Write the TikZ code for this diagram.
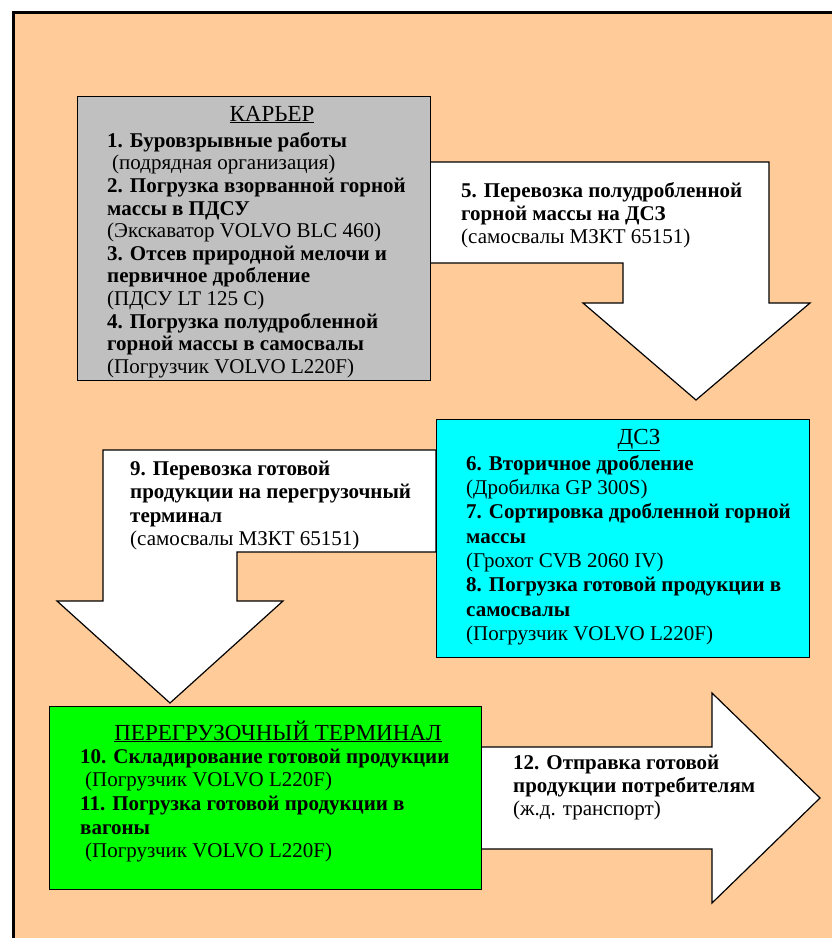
\documentclass[tikz,border=0pt]{standalone}
\usepackage{fontspec}
\setmainfont{Liberation Serif}
\usepackage{tikz}
\usetikzlibrary{positioning}

\definecolor{peach}{RGB}{255,204,153}
\definecolor{quarrygray}{RGB}{192,192,192}
\definecolor{plantcyan}{RGB}{0,255,255}
\definecolor{termgreen}{RGB}{0,255,0}

\begin{document}
\begin{tikzpicture}[x=1pt, y=-1pt,
    stage box/.style={draw, line width=1.2pt, anchor=north west, inner sep=0pt},
    block arrow/.style={draw, fill=white, line width=1.2pt, line join=miter},
    stage text/.style={anchor=north west, align=left, inner sep=0pt},
    stage title/.style={anchor=base, inner sep=0pt, font=\fontsize{23}{26}\selectfont}]

  \useasboundingbox (0,0) rectangle (832,938);
  \clip (0,0) rectangle (832,938);
  \fill[white] (0,0) rectangle (832,938);
  \draw[fill=peach, line width=3pt] (13,12) rectangle (860,970);

  % block arrows
  \draw[block arrow] (430,162) -- (769,162) -- (769,303) -- (810,303) -- (696,400)
    -- (583,303) -- (623,303) -- (623,263) -- (430,263) -- cycle;
  \draw[block arrow] (103,450) -- (436,450) -- (436,552) -- (237,552) -- (237,601)
    -- (283,601) -- (170,703) -- (57,601) -- (103,601) -- cycle;
  \draw[block arrow] (481,747) -- (712,747) -- (712,693) -- (820,798) -- (712,903)
    -- (712,849) -- (481,849) -- cycle;

  % stages
  \node[stage box, fill=quarrygray, minimum width=353pt, minimum height=284pt] (quarry) at (77,96) {};
  \node[stage box, fill=plantcyan, minimum width=373pt, minimum height=238pt] (plant) at (436,419) {};
  \node[stage box, fill=termgreen, minimum width=432pt, minimum height=183pt] (terminal) at (49,706) {};

  \node[stage title] (quarry title) at (272,121) {\underline{КАРЬЕР}};
  \node[stage text, font=\fontsize{21}{22.6}\selectfont] (quarry steps) at (107,131.2)
    {\strut\textbf{1. Буровзрывные работы}\\
     \hspace{5pt}(подрядная организация)\\
     \textbf{2. Погрузка взорванной горной}\\
     \textbf{массы в ПДСУ}\\
     (Экскаватор VOLVO BLC 460)\\
     \textbf{3. Отсев природной мелочи и}\\
     \textbf{первичное дробление}\\
     (ПДСУ LT 125 C)\\
     \textbf{4. Погрузка полудробленной}\\
     \textbf{горной массы в самосвалы}\\
     (Погрузчик VOLVO L220F)};

  \node[stage text, font=\fontsize{21}{23}\selectfont] (haul one) at (461,180.9)
    {\strut\textbf{5. Перевозка полудробленной}\\
     \textbf{горной массы на ДСЗ}\\
     (самосвалы МЗКТ 65151)};

  \node[stage title] (plant title) at (639,444) {\underline{ДСЗ}};
  \node[stage text, font=\fontsize{21}{24.3}\selectfont] (plant steps) at (466,453)
    {\strut\textbf{6. Вторичное дробление}\\
     (Дробилка GP 300S)\\
     \textbf{7. Сортировка дробленной горной}\\
     \textbf{массы}\\
     (Грохот CVB 2060 IV)\\
     \textbf{8. Погрузка готовой продукции в}\\
     \textbf{самосвалы}\\
     (Погрузчик VOLVO L220F)};

  \node[stage text, font=\fontsize{21}{23.5}\selectfont] (haul two) at (130,458.5)
    {\strut\textbf{9. Перевозка готовой}\\
     \textbf{продукции на перегрузочный}\\
     \textbf{терминал}\\
     (самосвалы МЗКТ 65151)};

  \node[stage title] (terminal title) at (278,740) {\underline{ПЕРЕГРУЗОЧНЫЙ ТЕРМИНАЛ}};
  \node[stage text, font=\fontsize{21}{23.6}\selectfont] (terminal steps) at (80,746.5)
    {\strut\textbf{10. Складирование готовой продукции}\\
     \hspace{5pt}(Погрузчик VOLVO L220F)\\
     \textbf{11. Погрузка готовой продукции в}\\
     \textbf{вагоны}\\
     \hspace{5pt}(Погрузчик VOLVO L220F)};

  \node[stage text, font=\fontsize{21}{23}\selectfont] (dispatch) at (513,752.9)
    {\strut\textbf{12. Отправка готовой}\\
     \textbf{продукции потребителям}\\
     (ж.д. транспорт)};
\end{tikzpicture}
\end{document}
